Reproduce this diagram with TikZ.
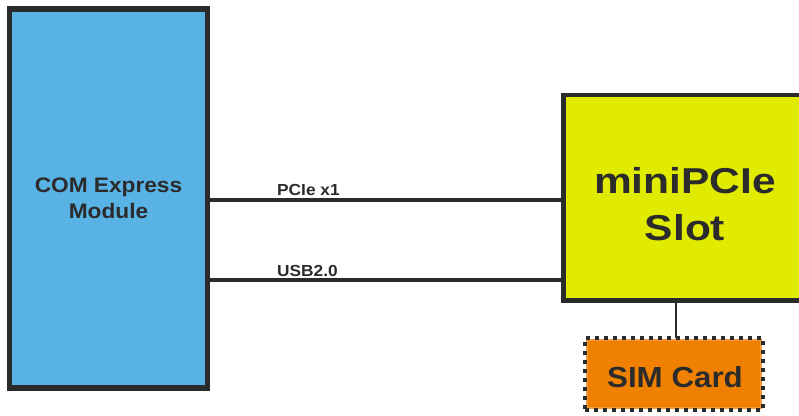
\documentclass[tikz,border=0pt]{standalone}
\usepackage{fontspec}
\setmainfont{Liberation Sans}[FakeStretch=1.08]
\newfontfamily\widefont{Liberation Sans}[FakeStretch=1.18]
\definecolor{modblue}{HTML}{58B2E4}
\definecolor{slotyel}{HTML}{E1EB00}
\definecolor{simorg}{HTML}{F08000}
\definecolor{simedge}{HTML}{F39A3C}
\definecolor{ink}{HTML}{2B2B2B}
\tikzset{
  box/.style={draw=ink, inner sep=0pt, outer sep=0pt},
  bus/.style={draw=ink, line width=4pt},
  lbl/.style={text=ink, font=\bfseries, inner sep=0pt, anchor=base},
}
\begin{document}
\begin{tikzpicture}[x=1pt, y=-1pt]
\useasboundingbox (0,0) rectangle (799,415);
\clip (0,0) rectangle (799,415);
% COM Express module
\node[box, fill=modblue, line width=5.5pt, minimum width=198pt, minimum height=379pt] (com) at (108.5,198.5) {};
\node[lbl, font=\bfseries\fontsize{21}{26}\selectfont] (comt1) at (108.5,192) {COM Express};
\node[lbl, font=\bfseries\fontsize{21}{26}\selectfont] (comt2) at (108.5,218) {Module};
% miniPCIe slot
\node[box, fill=slotyel, line width=4.5pt, minimum width=246.5pt, minimum height=205.5pt] (slot) at (686.75,197.75) {};
\node[lbl, font=\widefont\bfseries\fontsize{36}{47}\selectfont] (slt1) at (685,193) {miniPCIe};
\node[lbl, font=\widefont\bfseries\fontsize{36}{47}\selectfont] (slt2) at (685,240) {Slot};
% SIM card
\node[inner sep=0pt, outer sep=0pt, fill=simorg, draw=simedge, line width=1.5pt, minimum width=174pt, minimum height=68pt] (simfill) at (674,374) {};
\node[draw=ink, line width=4.5pt, dash pattern=on 4pt off 5pt, inner sep=0pt, outer sep=0pt, minimum width=178pt, minimum height=72pt] (sim) at (674,374) {};
\node[lbl, font=\bfseries\fontsize{29}{34}\selectfont] (simt) at (675,387) {SIM Card};
% buses
\coordinate (ypci) at (0,199.5);
\coordinate (yusb) at (0,280);
\draw[bus] (com.east |- ypci) -- (slot.west |- ypci);
\draw[bus] (com.east |- yusb) -- (slot.west |- yusb);
\node[lbl, font=\bfseries\fontsize{16}{19}\selectfont, anchor=base west] (pcil) at (277,195) {PCIe x1};
\node[lbl, font=\bfseries\fontsize{16}{19}\selectfont, anchor=base west] (usbl) at (277,276) {USB2.0};
% slot to SIM
\coordinate (xsim) at (676,0);
\draw[draw=ink, line width=2.5pt] (slot.south -| xsim) -- (sim.north -| xsim);
\end{tikzpicture}
\end{document}
